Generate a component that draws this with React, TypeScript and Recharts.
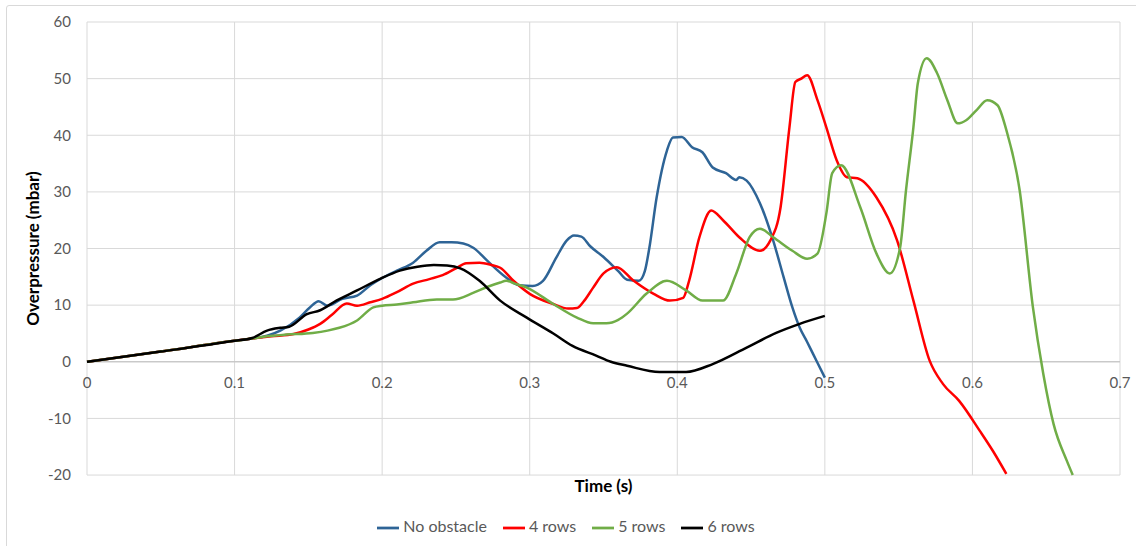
import { LineChart, Line, XAxis, YAxis, CartesianGrid, Legend, ReferenceLine } from 'recharts';

// time (s), overpressure (mbar)
const noObstacle: [number, number][] = [
  [0, 0], [0.05, 1.8], [0.1, 3.7], [0.112, 4.1], [0.122, 4.6], [0.131, 5.5], [0.144, 7.8],
  [0.151, 9.6], [0.157, 10.7], [0.163, 9.9], [0.173, 11.1], [0.183, 11.7], [0.192, 13.5],
  [0.2, 14.8], [0.21, 16.1], [0.221, 17.5], [0.23, 19.6], [0.239, 21.1], [0.247, 21.1],
  [0.255, 20.9], [0.262, 20.1], [0.271, 17.9], [0.284, 14.9], [0.293, 13.5], [0.302, 13.4],
  [0.309, 14.3], [0.318, 18.4], [0.325, 21.4], [0.33, 22.3], [0.335, 22.1], [0.341, 20.4],
  [0.35, 18.5], [0.36, 16], [0.366, 14.5], [0.374, 14.3], [0.378, 16], [0.381, 20], [0.386, 29],
  [0.393, 37.3], [0.397, 39.6], [0.403, 39.7], [0.41, 37.9], [0.417, 37], [0.424, 34.3],
  [0.433, 33.3], [0.44, 32.1], [0.442, 32.6], [0.447, 32], [0.456, 28], [0.465, 21.4],
  [0.472, 15], [0.478, 9.6], [0.483, 6], [0.488, 3.5], [0.492, 1.4], [0.5, -2.8],
];

const fourRows: [number, number][] = [
  [0, 0], [0.05, 1.8], [0.1, 3.7], [0.112, 4.1], [0.125, 4.5], [0.14, 4.9], [0.15, 5.7],
  [0.158, 6.7], [0.166, 8.3], [0.176, 10.3], [0.183, 9.9], [0.192, 10.5], [0.2, 11.1],
  [0.21, 12.3], [0.221, 13.8], [0.232, 14.6], [0.241, 15.3], [0.25, 16.5], [0.257, 17.4],
  [0.266, 17.5], [0.274, 17.1], [0.28, 16.6], [0.289, 14.3], [0.3, 12], [0.316, 10.2],
  [0.326, 9.4], [0.332, 9.5], [0.337, 10.8], [0.343, 13.1], [0.35, 15.6], [0.359, 16.7],
  [0.37, 14.4], [0.384, 12], [0.395, 10.8], [0.404, 11.3], [0.408, 14.3], [0.415, 22],
  [0.423, 26.7], [0.431, 25], [0.442, 22], [0.456, 19.6], [0.463, 21.4], [0.47, 27.3],
  [0.476, 41.4], [0.48, 49.4], [0.484, 50], [0.488, 50.6], [0.495, 46.2], [0.501, 41.4],
  [0.508, 35.6], [0.515, 32.6], [0.522, 32.4], [0.535, 29], [0.549, 21.4], [0.56, 10.8],
  [0.571, 0.2], [0.58, -3.9], [0.591, -6.9], [0.605, -12.2], [0.614, -15.8], [0.623, -19.8],
];

const fiveRows: [number, number][] = [
  [0, 0], [0.05, 1.8], [0.1, 3.7], [0.112, 4.1], [0.122, 4.5], [0.135, 4.8], [0.153, 5.1],
  [0.163, 5.5], [0.171, 6], [0.183, 7.3], [0.194, 9.6], [0.2, 9.9], [0.21, 10.1], [0.221, 10.5],
  [0.237, 11], [0.248, 11], [0.262, 12.2], [0.272, 13.3], [0.28, 14], [0.284, 14.3],
  [0.29, 13.8], [0.298, 13.1], [0.316, 10.2], [0.332, 7.8], [0.343, 6.8], [0.352, 6.8],
  [0.36, 7.4], [0.366, 8.5], [0.379, 12], [0.393, 14.3], [0.406, 12.6], [0.417, 10.8],
  [0.431, 10.8], [0.44, 15.6], [0.449, 22], [0.456, 23.5], [0.465, 22], [0.478, 19.6],
  [0.488, 18.2], [0.495, 19.1], [0.501, 26.2], [0.505, 33.3], [0.511, 34.7], [0.524, 27.3],
  [0.535, 19.1], [0.544, 15.6], [0.551, 20.2], [0.555, 30.3], [0.56, 41.4], [0.563, 49.2],
  [0.569, 53.6], [0.576, 51], [0.583, 46.2], [0.59, 42.1], [0.596, 42.7], [0.603, 44.5],
  [0.61, 46.2], [0.617, 45.3], [0.623, 40.9], [0.632, 30.3], [0.641, 9.6], [0.648, -2.1],
  [0.655, -11], [0.664, -17.5], [0.668, -20],
];

const sixRows: [number, number][] = [
  [0, 0], [0.05, 1.8], [0.1, 3.7], [0.112, 4.2], [0.122, 5.5], [0.131, 6], [0.137, 6.2],
  [0.149, 8.4], [0.158, 9.1], [0.169, 10.8], [0.183, 12.6], [0.199, 14.7], [0.212, 16.1],
  [0.224, 16.8], [0.235, 17.1], [0.244, 17], [0.253, 16.5], [0.266, 14.3], [0.28, 10.8],
  [0.298, 7.8], [0.316, 5], [0.329, 2.8], [0.345, 1.1], [0.355, 0], [0.366, -0.7],
  [0.388, -1.8], [0.406, -1.8], [0.424, -0.4], [0.447, 2.5], [0.467, 5.1], [0.483, 6.7],
  [0.5, 8.1],
];

const xTicks = [0, 0.1, 0.2, 0.3, 0.4, 0.5, 0.6, 0.7];
const yTicks = [-20, -10, 0, 10, 20, 30, 40, 50, 60];

const series = [
  { name: 'No obstacle', color: '#2E6496', points: noObstacle },
  { name: '4 rows', color: '#FF0000', points: fourRows },
  { name: '5 rows', color: '#70AD47', points: fiveRows },
  { name: '6 rows', color: '#000000', points: sixRows },
];
const seriesOrder = series.map((s) => s.name);

const FONT = 'Lato, "Open Sans", sans-serif';
const TOP = 22;
const PLOT_H = 452;
// pixel row of the zero line, where Excel puts the category labels
const ZERO_Y = TOP + PLOT_H * (60 / 80);

const XTick = (props: any) => {
  const { x, payload } = props;
  return (
    <text x={x} y={ZERO_Y + 27} textAnchor="middle" fill="#595959" fontSize={15} fontFamily={FONT}>
      {payload.value}
    </text>
  );
};

export default function App() {
  return (
    <div style={{ position: 'absolute', left: 0, top: 0, width: 1136, height: 546, background: '#fff', overflow: 'hidden' }}>
      <div
        style={{
          position: 'absolute', left: 6, top: 5, width: 1140, height: 550,
          border: '1px solid #D9D9D9', borderRadius: 3,
        }}
      />
      <LineChart width={1136} height={546} margin={{ top: TOP, right: 16, bottom: 7, left: 0 }}>
        <CartesianGrid stroke="#D9D9D9" strokeWidth={1} />
        <XAxis
          type="number"
          dataKey="t"
          domain={[0, 0.7]}
          ticks={xTicks}
          tick={<XTick />}
          tickLine={false}
          axisLine={false}
          height={41}
          label={{ value: 'Time (s)', position: 'insideTop', offset: 5, fill: '#000', fontWeight: 700, fontSize: 17, fontFamily: FONT }}
        />
        <YAxis
          type="number"
          domain={[-20, 60]}
          ticks={yTicks}
          width={87}
          tickSize={0}
          tickMargin={16}
          tickLine={false}
          axisLine={false}
          tick={{ fill: '#595959', fontSize: 15, fontFamily: FONT }}
          label={{
            value: 'Overpressure (mbar)', angle: -90, position: 'insideLeft', offset: 33,
            style: { textAnchor: 'middle' }, fill: '#000', fontWeight: 700, fontSize: 17, fontFamily: FONT,
          }}
        />
        <ReferenceLine y={0} stroke="#BFBFBF" strokeWidth={1} />
        {series.map((s) => (
          <Line
            key={s.name}
            name={s.name}
            data={s.points.map(([t, p]) => ({ t, p }))}
            dataKey="p"
            type="monotone"
            stroke={s.color}
            strokeWidth={2.5}
            dot={false}
            activeDot={false}
            isAnimationActive={false}
          />
        ))}
        <Legend
          verticalAlign="bottom"
          iconType="plainline"
          iconSize={22}
          itemSorter={(item: any) => seriesOrder.indexOf(item.value)}
          formatter={(v) => <span style={{ color: '#595959', marginRight: 6 }}>{v}</span>}
          wrapperStyle={{ fontFamily: FONT, fontSize: 16, paddingLeft: 14 }}
        />
      </LineChart>
    </div>
  );
}
